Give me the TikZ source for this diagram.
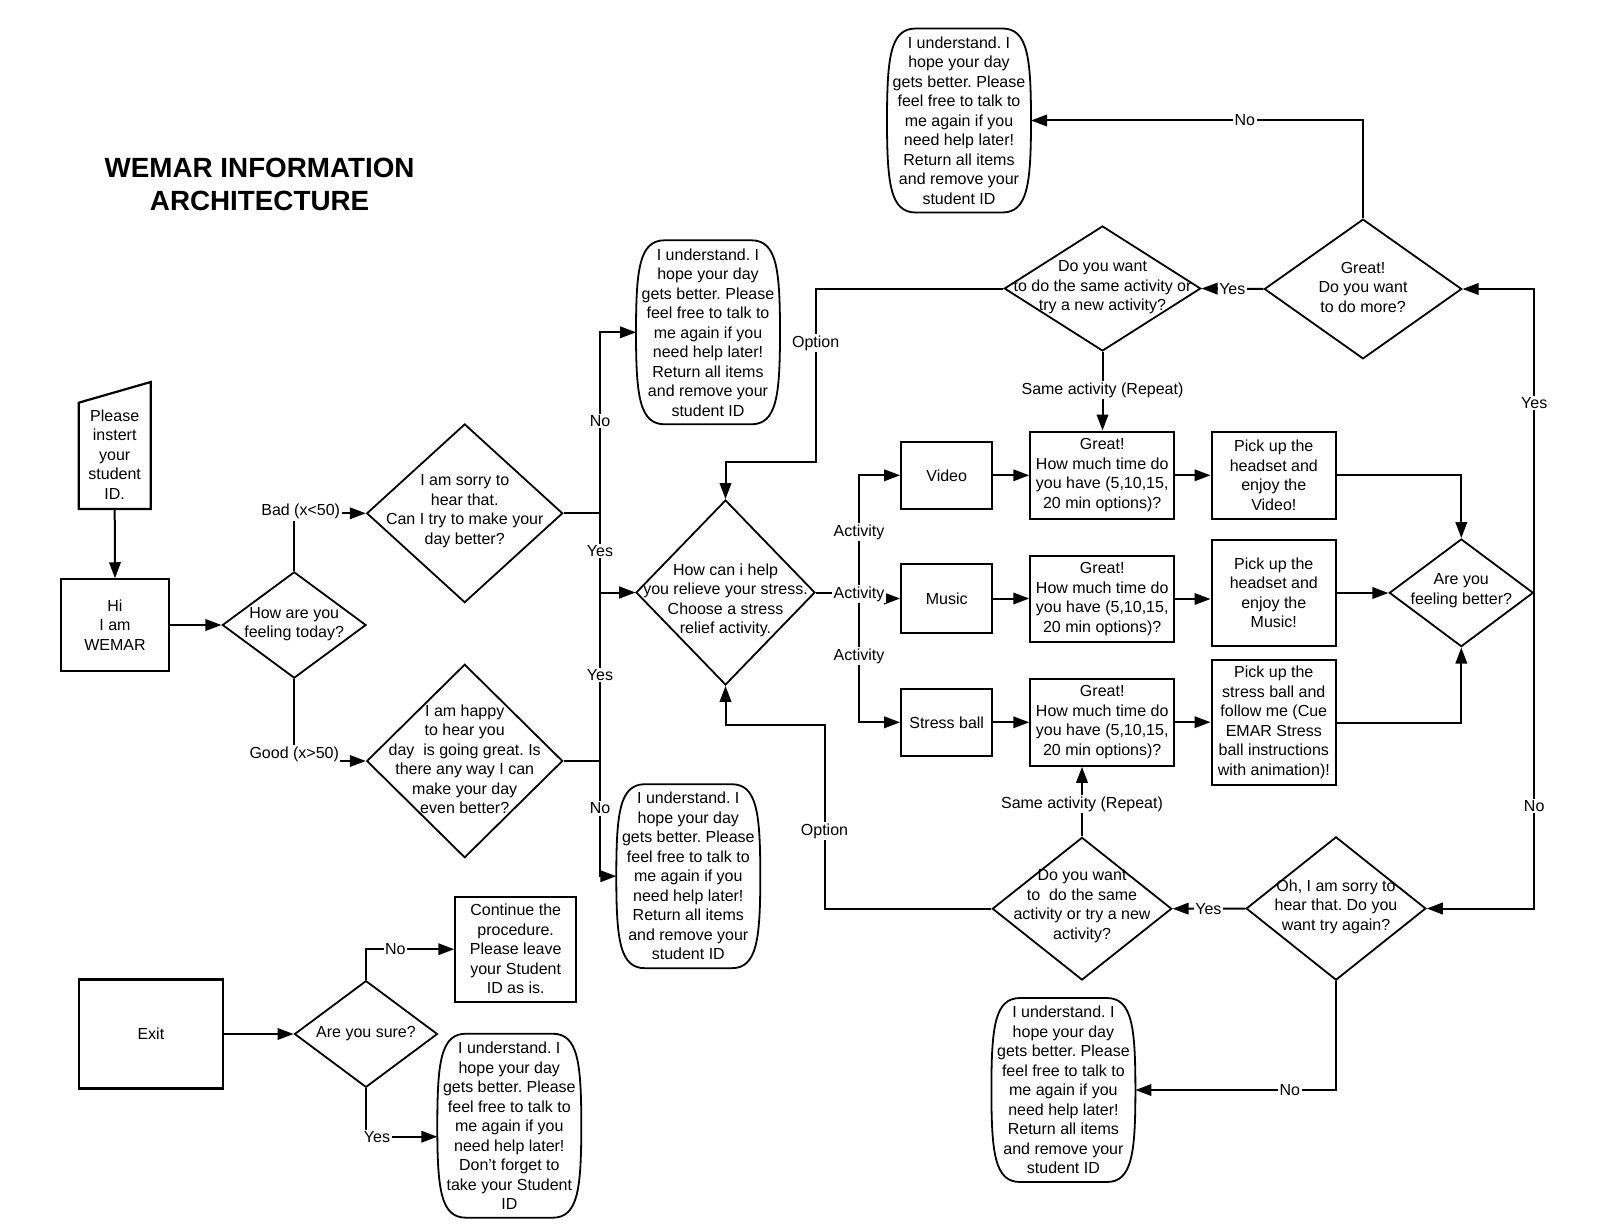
\documentclass[tikz,border=0pt]{standalone}
\usepackage{fontspec}
\setmainfont{Liberation Sans}
\usetikzlibrary{arrows.meta,calc,shapes.geometric}
\frenchspacing
\tikzset{
  base/.style={font=\fontsize{16}{19.5}\selectfont, align=center, inner sep=0pt},
  box/.style 2 args={base, draw, line width=2.2pt, rectangle, minimum width=#1, minimum height=#2},
  dia/.style 2 args={draw, line width=1.8pt, diamond, inner sep=0pt, minimum width=#1, minimum height=#2},
  term/.style={base, rectangle, draw=none, outer sep=0pt, minimum width=144pt, minimum height=184pt},
  ln/.style={line width=2pt},
  arr/.style={line width=2pt, -{Triangle[length=16pt,width=11.5pt]}},
  lab/.style={base, fill=white, inner sep=1.5pt}
}
\newcommand{\termoutline}[1]{%
  \draw[line width=1.8pt] ($(#1.north)!0.6!(#1.north west)$) -- ($(#1.north)!0.6!(#1.north east)$)
    .. controls ($(#1.north)!0.95!(#1.north east)$) and ($(#1.north east)!0.3!(#1.east)$) .. (#1.east)
    .. controls ($(#1.south east)!0.3!(#1.east)$) and ($(#1.south)!0.95!(#1.south east)$) .. ($(#1.south)!0.6!(#1.south east)$)
    -- ($(#1.south)!0.6!(#1.south west)$)
    .. controls ($(#1.south)!0.95!(#1.south west)$) and ($(#1.south west)!0.3!(#1.west)$) .. (#1.west)
    .. controls ($(#1.north west)!0.3!(#1.west)$) and ($(#1.north)!0.95!(#1.north west)$) .. ($(#1.north)!0.6!(#1.north west)$) -- cycle;}
\begin{document}
\begin{tikzpicture}[x=1pt,y=-1pt]
\useasboundingbox (0,0) rectangle (1600,1228);

% title
\node[font=\fontsize{27.8}{32.8}\selectfont\bfseries, align=center] (title) at (259.6,184.6) {WEMAR INFORMATION\\ARCHITECTURE};

% start
\node[rectangle, draw=none, outer sep=0pt, minimum width=72pt, minimum height=127pt] (start) at (114.7,445.5) {};
\draw[line width=2.2pt] (start.south west) -- ([yshift=-20.7pt]start.north west) -- (start.north east) -- (start.south east) -- cycle;
\node[base] (start-t) at (114.7,454.3) {Please\\instert\\your\\student\\ID.};

\node[box={108.6pt}{91.3pt}] (wemar) at (115,625) {Hi\\I am\\WEMAR};

% first decision
\node[dia={143.7pt}{106.3pt}] (feel) at (294.2,625) {};
\node[base] (feel-t) at (294.2,624) {How are you\\feeling today?};

\node[dia={196pt}{178.7pt}] (sorry) at (464.7,513.3) {};
\node[base] (sorry-t) at (464.7,511.3) {I am sorry to\\hear that.\\Can I try to make your\\day better?};

\node[dia={196pt}{193.5pt}] (happy) at (464.7,761) {};
\node[base] (happy-t) at (464.7,759.3) {I am happy\\to hear you\\day\ \ is going great. Is\\there any way I can\\make your day\\even better?};

% end ellipses
\node[term] (ell1) at (708,332.3) {I understand. I\\hope your day\\gets better. Please\\feel free to talk to\\me again if you\\need help later!\\Return all items\\and remove your\\student ID};
\termoutline{ell1}
\node[term] (ell2) at (688.3,876.2) {I understand. I\\hope your day\\gets better. Please\\feel free to talk to\\me again if you\\need help later!\\Return all items\\and remove your\\student ID};
\termoutline{ell2}
\node[term] (ell3) at (959,120.5) {I understand. I\\hope your day\\gets better. Please\\feel free to talk to\\me again if you\\need help later!\\Return all items\\and remove your\\student ID};
\termoutline{ell3}
\node[term] (ell4) at (1063.4,1090) {I understand. I\\hope your day\\gets better. Please\\feel free to talk to\\me again if you\\need help later!\\Return all items\\and remove your\\student ID};
\termoutline{ell4}
\node[term] (ell5) at (509.3,1125.7) {I understand. I\\hope your day\\gets better. Please\\feel free to talk to\\me again if you\\need help later!\\Don't forget to\\take your Student\\ID};
\termoutline{ell5}

% help
\node[dia={179pt}{185pt}] (help) at (725.5,592.5) {};
\node[base] (help-t) at (725.5,600.5) {How can i help\\you relieve your stress.\\Choose a stress\\relief activity.};

% activities
\node[box={91pt}{67.3pt}] (video) at (946.7,475.3) {Video};
\node[box={91pt}{68.3pt}] (music) at (946.7,598.5) {Music};
\node[box={91pt}{67.3pt}] (stress) at (946.7,722.3) {Stress ball};

\node[box={143.7pt}{87.3pt}] (vtime) at (1102.2,475.3) {Great!\\How much time do\\you have (5,10,15,\\20 min options)?};
\node[box={143.7pt}{86.7pt}] (mtime) at (1102.2,599) {Great!\\How much time do\\you have (5,10,15,\\20 min options)?};
\node[box={143.7pt}{87pt}] (stime) at (1102.2,722.2) {Great!\\How much time do\\you have (5,10,15,\\20 min options)?};

\node[box={124.4pt}{87.3pt}] (vpick) at (1273.8,475.3) {Pick up the\\headset and\\enjoy the\\Video!};
\node[box={124.4pt}{106pt}] (mpick) at (1273.8,593) {Pick up the\\headset and\\enjoy the\\Music!};
\node[box={124.4pt}{125pt}] (spick) at (1273.8,722.5) {Pick up the\\stress ball and\\follow me (Cue\\EMAR Stress\\ball instructions\\with animation)!};

\node[dia={144pt}{107.7pt}] (better) at (1461.3,592.8) {};
\node[base] (better-t) at (1461.3,590.5) {Are you\\feeling better?};

\node[dia={197.4pt}{139.7pt}] (great) at (1363,289) {};
\node[base] (great-t) at (1363,287.4) {Great!\\Do you want\\to do more?};

\node[dia={196.4pt}{125pt}] (same) at (1102.5,288.5) {};
\node[base] (same-t) at (1102.5,287.6) {Do you want\\to do the same activity or\\try a new activity?};

\node[dia={179.4pt}{142.7pt}] (d2) at (1082,908.7) {};
\node[base] (d2-t) at (1082,906.3) {Do you want\\to\ \ do the same\\activity or try a new\\activity?};

\node[dia={179.7pt}{143.3pt}] (oh) at (1336,908.5) {};
\node[base] (oh-t) at (1336,906.6) {Oh, I am sorry to\\hear that. Do you\\want try again?};

% exit
\node[box={144.6pt}{109pt}] (exit) at (150.9,1034) {Exit};
\node[dia={143pt}{106.7pt}] (sure) at (366,1034) {};
\node[base] (sure-t) at (366,1034) {Are you sure?};
\node[box={120.7pt}{105pt}] (cont) at (515.7,949.2) {Continue the\\procedure.\\Please leave\\your Student\\ID as is.};

% helper coordinates
\coordinate (bus1) at (600,513.3);
\coordinate (bus2) at (600,761);
\coordinate (actbus) at (859,592.5);
\coordinate (opt1a) at (815.7,288.5);
\coordinate (opt1b) at (815.7,462.3);
\coordinate (opt2a) at (824.5,908.7);
\coordinate (opt2b) at (824.5,725.4);

% connectors
\draw[arr] (start.south) -- (wemar.north);
\draw[arr] (wemar.east) -- (feel.west);
\draw[arr] (feel.north) |- node[lab, pos=0.5, xshift=6.5pt, yshift=1.6pt] (lbad) {Bad (x<50)} (sorry.west);
\draw[arr] (feel.south) |- node[lab, pos=0.5, yshift=7pt] (lgood) {Good (x>50)} (happy.west);

\draw[ln] (sorry.east) -- (bus1);
\draw[arr] (bus1) |- node[lab, pos=0.255] (lno1) {No} (ell1.west);
\draw[arr] (bus1) |- node[lab, pos=0.238] (lyes1) {Yes} (help.west);
\draw[ln] (happy.east) -- (bus2);
\draw[arr] (bus2) |- node[lab, pos=0.255] (lyes2) {Yes} (help.west);
\draw[arr] (bus2) |- node[lab, pos=0.206] (lno2) {No} (ell2.west);

\draw[ln] (help.east) -- (actbus);
\draw[arr] (actbus) |- node[lab, pos=0.258] (lact1) {Activity} (video.west);
\draw[arr] (actbus) |- (music.west);
\draw[arr] (actbus) |- node[lab, pos=0.245] (lact3) {Activity} (stress.west);
\node[lab, yshift=-1.8pt] (lact2) at (actbus) {Activity};

\draw[arr] (video.east) -- (video.east -| vtime.west);
\draw[arr] (music.east) -- (music.east -| mtime.west);
\draw[arr] (stress.east) -- (stress.east -| stime.west);
\draw[arr] (vtime.east) -- (vtime.east -| vpick.west);
\draw[arr] (mtime.east) -- (mtime.east -| mpick.west);
\draw[arr] (stime.east) -- (stime.east -| spick.west);

\draw[arr] (vpick.east) -| (better.north);
\draw[arr] (mpick.east) -- (mpick.east -| better.west);
\draw[arr] (spick.east) -| (better.south);

\draw[arr] (better.east) |- node[lab, pos=0.312] (lyes3) {Yes} (great.east);
\draw[arr] (better.east) |- node[lab, pos=0.338] (lno3) {No} (oh.east);

\draw[arr] (great.north) |- node[lab, pos=0.678] (lno4) {No} (ell3.east);
\draw[arr] (great.west) -- node[lab, pos=0.503] (lyes4) {Yes} (same.east);
\draw[arr] (same.south) -- node[lab, pos=0.49] (lrep1) {Same activity (Repeat)} (same.south |- vtime.north);
\draw[arr] (same.west) -- (opt1a) -- node[lab, pos=0.314] (lopt1) {Option} (opt1b) -| (help.north);

\draw[arr] (oh.west) -- node[lab, pos=0.507] (lyes5) {Yes} (d2.east);
\draw[arr] (oh.south) |- node[lab, pos=0.615] (lno5) {No} (ell4.east);
\draw[arr] (d2.north) -- node[lab, pos=0.465] (lrep2) {Same activity (Repeat)} (d2.north |- stime.south);
\draw[arr] (d2.west) -- (opt2a) -- node[lab, pos=0.424] (lopt2) {Option} (opt2b) -| (help.south);

\draw[arr] (exit.east) -- (sure.west);
\draw[arr] (sure.north) |- node[lab, pos=0.666] (lno6) {No} (cont.west);
\draw[arr] (sure.south) |- node[lab, pos=0.577] (lyes6) {Yes} ([yshift=-11pt]ell5.west);
\end{tikzpicture}
\end{document}
